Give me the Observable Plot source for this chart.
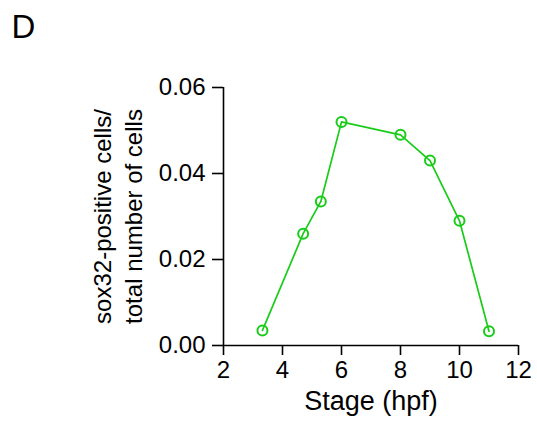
<!DOCTYPE html>
<html>
<head>
<meta charset="utf-8">
<script src="https://cdn.jsdelivr.net/npm/d3@7"></script>
<script src="https://cdn.jsdelivr.net/npm/@observablehq/plot@0.6"></script>
<style>
  html, body { margin: 0; padding: 0; background: #fff; }
  #chart { width: 537px; height: 423px; }
</style>
</head>
<body>
<div id="chart"></div>
<script>
// sox32-positive cell fraction by developmental stage
const stages = [3.32, 4.7, 5.3, 6.0, 8.0, 9.0, 10.0, 11.0];
const fractions = [0.0035, 0.026, 0.0335, 0.052, 0.049, 0.043, 0.029, 0.0033];
const xTicks = [2, 4, 6, 8, 10, 12];
const yTicks = [0, 0.02, 0.04, 0.06];

const panelLetter = "D";
const xLabel = "Stage (hpf)";
const yLabel = "sox32-positive cells/\ntotal number of cells";

const rows = stages.map((s, i) => ({stage: s, fraction: fractions[i]}));
const green = "rgb(24,204,24)";

const chart = Plot.plot({
  width: 537,
  height: 423,
  marginLeft: 223,
  marginRight: 19,
  marginTop: 87,
  marginBottom: 78,
  style: {fontFamily: "Liberation Sans, Arial, sans-serif", fontSize: "24px", background: "#fff", color: "#000", overflow: "visible"},
  x: {domain: [2, 12]},
  y: {domain: [0, 0.06]},
  marks: [
    Plot.ruleY([0], {stroke: "#000", strokeWidth: 1.6}),
    Plot.ruleX([2], {stroke: "#000", strokeWidth: 1.6}),
    Plot.axisX({ticks: xTicks, tickSize: 10, tickPadding: 5, strokeWidth: 1.6, label: null, fontSize: 24}),
    Plot.axisY({ticks: yTicks, tickSize: 11, tickPadding: 7, strokeWidth: 1.6, tickFormat: d3.format(".2f"), label: null, fontSize: 24}),
    Plot.line(rows, {x: "stage", y: "fraction", stroke: green, strokeWidth: 1.7}),
    Plot.dot(rows, {x: "stage", y: "fraction", r: 5, stroke: green, strokeWidth: 2, fill: "none"}),
    Plot.text([xLabel], {frameAnchor: "bottom", dy: 56, lineAnchor: "middle", fontSize: 27}),
    Plot.text([yLabel], {frameAnchor: "left", dx: -107, rotate: -90, textAnchor: "middle", lineAnchor: "middle", lineHeight: 1.3, fontSize: 24}),
    Plot.text([panelLetter], {frameAnchor: "top-left", dx: -212, dy: -60, textAnchor: "start", lineAnchor: "middle", fontSize: 33})
  ]
});

document.getElementById("chart").appendChild(chart);
</script>
</body>
</html>
